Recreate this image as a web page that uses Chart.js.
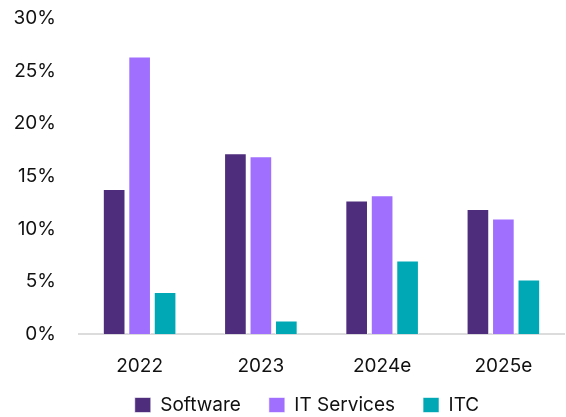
<!DOCTYPE html>
<html>
<head>
<meta charset="utf-8">
<script src="https://cdn.jsdelivr.net/npm/chart.js@4"></script>
<style>
    html, body { margin: 0; padding: 0; background: #fff; }
    #wrap { width: 566px; height: 417px; }
</style>
</head>
<body>
<div id="wrap"><canvas id="growthChart"></canvas></div>
<script>
// Crescimento por segmento (%)
const years = ["2022", "2023", "2024e", "2025e"];
const software = [13.8, 17.2, 12.7, 11.9];
const itServices = [26.4, 16.9, 13.2, 11.0];
const itc = [4.0, 1.3, 7.0, 5.2];
const yTicks = [0, 5, 10, 15, 20, 25, 30];

const fontFamily = "Inter, 'Noto Sans', sans-serif";
const textColor = "#111111";

// Reposiciona a legenda depois do layout (mais à direita e colada no rodapé)
const legendShift = {
    id: "legendShift",
    afterLayout(chart) {
        const lg = chart.legend;
        const dx = 18;
        const h = lg.bottom - lg.top;
        lg.left += dx;
        lg.right += dx;
        lg.top = 367.5;
        lg.bottom = lg.top + h;
    },
};

const ctx = document.getElementById("growthChart").getContext("2d");
const growthChart = new Chart(ctx, {
    type: "bar",
    data: {
        labels: years,
        datasets: [
            {
                label: "Software",
                data: software,
                backgroundColor: "#4e2d7c",
                borderColor: "rgba(255, 255, 255, 0.6)",
                borderWidth: 1,
            },
            {
                label: "IT Services",
                data: itServices,
                backgroundColor: "#a06ffe",
                borderColor: "rgba(255, 255, 255, 0.6)",
                borderWidth: 1,
            },
            {
                label: "ITC",
                data: itc,
                backgroundColor: "#00a8b5",
                borderColor: "rgba(255, 255, 255, 0.6)",
                borderWidth: 1,
            },
        ],
    },
    plugins: [legendShift],
    options: {
        responsive: true,
        maintainAspectRatio: false,
        animation: false,
        datasets: {
            bar: {
                categoryPercentage: 0.63,
                barPercentage: 0.89,
            },
        },
        layout: {
            padding: { left: 14, right: 2, top: 18.5, bottom: -31 },
        },
        plugins: {
            legend: {
                position: "bottom",
                labels: {
                    color: textColor,
                    boxWidth: 16,
                    boxHeight: 15,
                    padding: 28,
                    font: { family: fontFamily, size: 19 },
                },
            },
            tooltip: { enabled: false },
        },
        scales: {
            x: {
                grid: { display: false },
                border: { display: true, color: "#dcdcdc", width: 2 },
                ticks: {
                    color: textColor,
                    padding: 13,
                    font: { family: fontFamily, size: 19 },
                },
            },
            y: {
                min: 0,
                max: 30,
                afterBuildTicks: (axis) => {
                    axis.ticks = yTicks.map((v) => ({ value: v }));
                },
                afterFit: (scale) => {
                    scale.width = 65;
                },
                // espaço entre rótulos e área do gráfico vem do tickLength
                grid: { display: false, tickLength: 23 },
                border: { display: false },
                ticks: {
                    color: textColor,
                    padding: 0,
                    font: { family: fontFamily, size: 19 },
                    callback: (v) => v + "%",
                },
            },
        },
    },
});
</script>
</body>
</html>
